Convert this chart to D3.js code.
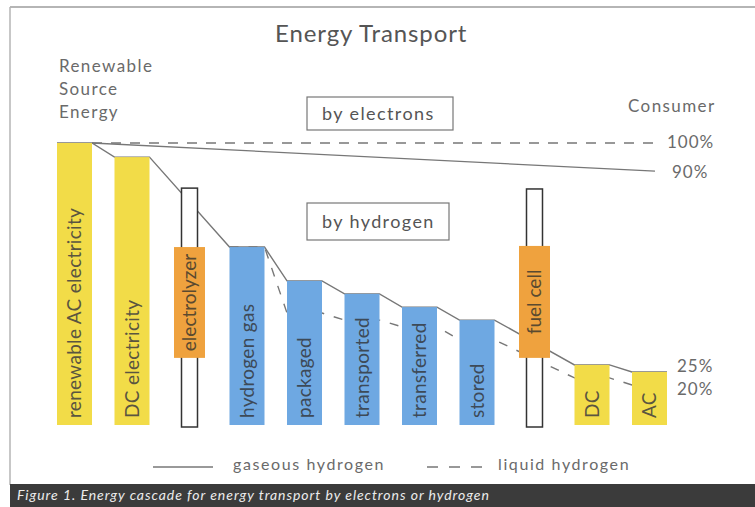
<!DOCTYPE html>
<html>
<head>
<meta charset="utf-8">
<script src="https://cdn.jsdelivr.net/npm/d3@7"></script>
<style>
  body { margin: 0; background: #fff; }
  svg { display: block; font-family: Lato, "Open Sans", sans-serif; }
</style>
</head>
<body>
<svg width="755" height="507"></svg>
<script>
// stages of the cascade, left to right
var stages = ["renewable AC electricity", "DC electricity", "electrolyzer", "hydrogen gas",
  "packaged", "transported", "transferred", "stored", "fuel cell", "DC", "AC"];
var kinds = ["elec", "elec", "device", "h2", "h2", "h2", "h2", "h2", "device", "elec", "elec"];

// percent of source energy left at each stage (gaseous hydrogen route)
var gaseous = [100, 95, null, 63.1, 51.1, 46.5, 41.8, 37.2, null, 21.3, 18.8];
// liquid hydrogen route
var liquid = [null, null, null, 63.1, 39.7, 37.2, 34.8, 30.2, null, 16.7, 14.2];
// conversion devices: outline height and the range they convert across
var deviceTop = [84, 83.7];
var deviceLow = [23.8, 23.8];
var deviceHigh = [63.1, 63.5];

// transport by electrons: start and end level
var electronLine = [100, 90];
var electronRef = [100, 100];

var endLabels = ["100%", "90%", "25%", "20%"];
var legendLabels = ["gaseous hydrogen", "liquid hydrogen"];

var svg = d3.select("svg");
var colors = { elec: "#f2dc48", h2: "#6ea8e2", device: "#efa23e" };
var lineColor = "#777";
var textColor = "#6a6a6a";

var x = d3.scaleBand().domain(stages).range([57, 667]).paddingInner(0.3913).paddingOuter(0);
var y = d3.scaleLinear().domain([0, 100]).range([425, 143]);
var bw = x.bandwidth();

// frame
svg.append("line").attr("x1", 10).attr("x2", 755).attr("y1", 7).attr("y2", 7)
  .attr("stroke", "#b5b5b5").attr("stroke-width", 2);
svg.append("line").attr("x1", 10).attr("x2", 10).attr("y1", 7).attr("y2", 485)
  .attr("stroke", "#b5b5b5").attr("stroke-width", 1.5);

// title and side texts
svg.append("text").attr("x", 275).attr("y", 42).attr("font-size", 24).attr("letter-spacing", 0.9)
  .attr("fill", "#555").text("Energy Transport");

var src = svg.append("text").attr("font-size", 17).attr("letter-spacing", 1.4).attr("fill", textColor);
["Renewable", "Source", "Energy"].forEach(function (t, i) {
  src.append("tspan").attr("x", 59).attr("y", 72 + i * 23).text(t);
});
svg.append("text").attr("x", 628).attr("y", 112).attr("font-size", 17).attr("letter-spacing", 1.4)
  .attr("fill", textColor).text("Consumer");

// labelled boxes
[["by electrons", 97, 146, 33], ["by hydrogen", 203, 142, 37]].forEach(function (b) {
  svg.append("rect").attr("x", 307).attr("y", b[1]).attr("width", b[2]).attr("height", b[3])
    .attr("fill", "none").attr("stroke", "#777").attr("stroke-width", 1.2);
  svg.append("text").attr("x", 322).attr("y", b[1] + b[3] / 2 + 6).attr("font-size", 18)
    .attr("letter-spacing", 1.4).attr("fill", "#555").text(b[0]);
});

// electron lines
var ex0 = x(stages[0]) + bw, ex1 = 655;
svg.append("line").attr("x1", ex0).attr("x2", ex1)
  .attr("y1", y(electronRef[0])).attr("y2", y(electronRef[1]))
  .attr("stroke", lineColor).attr("stroke-width", 1.4).attr("stroke-dasharray", "10,9");
svg.append("line").attr("x1", ex0).attr("x2", ex1)
  .attr("y1", y(electronLine[0])).attr("y2", y(electronLine[1]))
  .attr("stroke", lineColor).attr("stroke-width", 1.3);

// hydrogen cascade lines (drawn under the bars)
function cascade(vals) {
  var pts = [];
  vals.forEach(function (v, i) {
    if (v == null) return;
    pts.push([x(stages[i]), y(v)]);
    pts.push([x(stages[i]) + bw, y(v)]);
  });
  return d3.line()(pts);
}
svg.append("path").attr("d", cascade(gaseous)).attr("fill", "none")
  .attr("stroke", lineColor).attr("stroke-width", 1.4);
svg.append("path").attr("d", cascade(liquid)).attr("fill", "none")
  .attr("stroke", lineColor).attr("stroke-width", 1.4).attr("stroke-dasharray", "9,10");

// bars
var barIdx = d3.range(stages.length).filter(function (i) { return kinds[i] != "device"; });
svg.selectAll("rect.bar").data(barIdx).enter().append("rect").attr("class", "bar")
  .attr("x", function (i) { return x(stages[i]); })
  .attr("y", function (i) { return y(gaseous[i]); })
  .attr("width", bw)
  .attr("height", function (i) { return y(0) - y(gaseous[i]); })
  .attr("fill", function (i) { return colors[kinds[i]]; });

svg.selectAll("text.bar").data(barIdx).enter().append("text").attr("class", "bar")
  .attr("transform", function (i) {
    return "translate(" + (x(stages[i]) + bw / 2) + "," + (y(0) - 7) + ") rotate(-90)";
  })
  .attr("dy", "0.35em").attr("font-size", 19).attr("letter-spacing", 0.3)
  .attr("fill", function (i) { return kinds[i] == "h2" ? "#3d4a58" : "#5a5540"; })
  .text(function (i) { return stages[i]; });

// conversion devices
var devIdx = d3.range(stages.length).filter(function (i) { return kinds[i] == "device"; });
devIdx.forEach(function (i, k) {
  var cx = x(stages[i]) + bw / 2;
  svg.append("rect").attr("x", cx - 8).attr("y", y(deviceTop[k])).attr("width", 16)
    .attr("height", y(0) + 2 - y(deviceTop[k]))
    .attr("fill", "#fff").attr("stroke", "#333").attr("stroke-width", 1.5);
  svg.append("rect").attr("x", cx - 15.5).attr("y", y(deviceHigh[k])).attr("width", 31)
    .attr("height", y(deviceLow[k]) - y(deviceHigh[k])).attr("fill", colors.device);
  svg.append("text")
    .attr("transform", "translate(" + cx + "," + (y((deviceLow[k] + deviceHigh[k]) / 2)) + ") rotate(-90)")
    .attr("dy", "0.35em").attr("text-anchor", "middle").attr("font-size", 19)
    .attr("fill", "#5a4a30").text(stages[i]);
});

// end labels
[[667, 148], [672, 178], [677, 372], [677, 395]].forEach(function (p, i) {
  svg.append("text").attr("x", p[0]).attr("y", p[1]).attr("font-size", 17)
    .attr("letter-spacing", 1).attr("fill", textColor).text(endLabels[i]);
});

// legend
svg.append("line").attr("x1", 153).attr("x2", 213).attr("y1", 467).attr("y2", 467)
  .attr("stroke", lineColor).attr("stroke-width", 1.3);
svg.append("line").attr("x1", 427).attr("x2", 482).attr("y1", 467).attr("y2", 467)
  .attr("stroke", lineColor).attr("stroke-width", 1.3).attr("stroke-dasharray", "11,11");
[[233, legendLabels[0]], [498, legendLabels[1]]].forEach(function (l) {
  svg.append("text").attr("x", l[0]).attr("y", 470).attr("font-size", 16)
    .attr("letter-spacing", 1.6).attr("fill", textColor).text(l[1]);
});

// caption bar
svg.append("rect").attr("x", 10).attr("y", 484).attr("width", 745).attr("height", 23).attr("fill", "#3b3b3b");
svg.append("text").attr("x", 17).attr("y", 500).attr("font-size", 14).attr("font-style", "italic")
  .attr("letter-spacing", 0.95).attr("fill", "#ececec")
  .text("Figure 1. Energy cascade for energy transport by electrons or hydrogen");
</script>
</body>
</html>
